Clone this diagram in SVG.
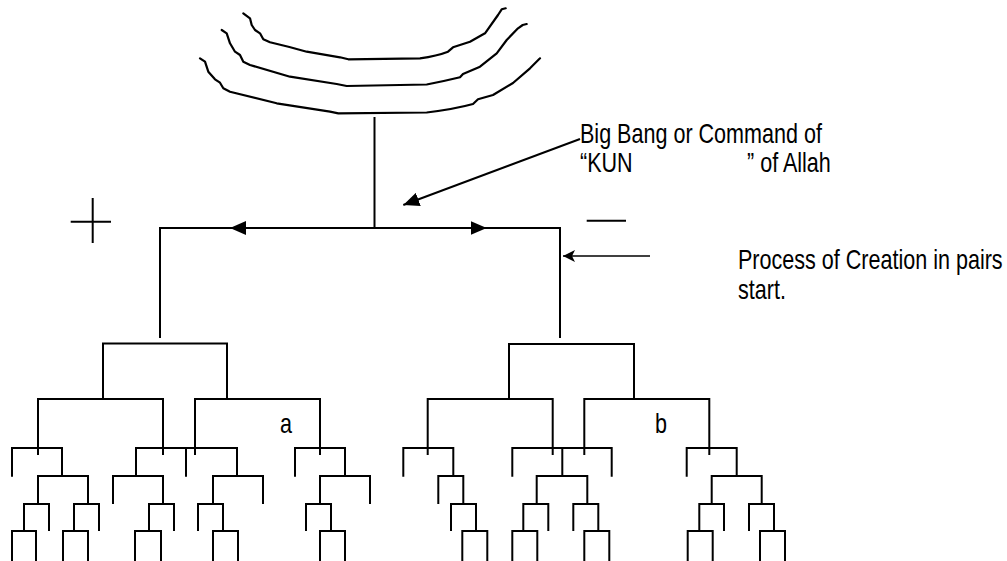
<svg xmlns="http://www.w3.org/2000/svg" width="1007" height="561" viewBox="0 0 1007 561">
<style>
.ln{fill:none;stroke:#000;stroke-width:2;stroke-linecap:butt;stroke-linejoin:miter}
.wv{fill:none;stroke:#000;stroke-width:2.2;stroke-linecap:round;stroke-linejoin:round}
.thin{fill:none;stroke:#000;stroke-width:1.6}
.tx{font-family:"Liberation Sans",Arial,sans-serif;font-size:28px;fill:#000}
</style>
<defs>
<marker id="tri" viewBox="0 0 16 14" refX="16" refY="7" markerWidth="16" markerHeight="14" markerUnits="userSpaceOnUse" orient="auto">
<path d="M0 0 L16 7 L0 14 z" fill="#000"/>
</marker>
<marker id="open" viewBox="0 0 12 12" refX="12" refY="6" markerWidth="12" markerHeight="12" markerUnits="userSpaceOnUse" orient="auto">
<path d="M0 0 L12 6 L0 12 L3 6 z" fill="#000"/>
</marker>
</defs>
<rect width="1007" height="561" fill="#fff"/>
<g id="waves">
<path class="wv" d="M243.3 13.3 L250 18.3 L251.7 25 L255 30 L260 33.3 L263.3 39.3 L270 42.3 Q290 47 306.7 51.7 L340 57.3 L348.3 59.3 L420 58.3 Q437 56 448 51.7 L453 47.3 L470 41.7 L485 33.3 L498 15 L501.7 9.3 L505.7 8.3"/>
<path class="wv" d="M221.7 30 L226.7 33.3 L230 43.3 L235 51.7 L240 55 L243.3 61.7 L250 65 L290 76.7 L336.7 84 L346.7 86 L426.7 84.5 Q445 81 460 77.3 L463 74 L480 66.7 L496.7 53.3 L506.7 40 L518 28.3 L522.7 25 L526.7 24"/>
<path class="wv" d="M200 58.3 L205 61.7 L208.3 71.7 L215 79.3 L220 82.7 L223.3 88.3 L230 91.7 L276.7 103.3 L330 111.7 L338.3 113.3 L426.7 112.5 Q455 109 473 104 L478 99.3 L493 95 L513 83 L530 68.3 L540 58.3"/>
</g>
<g id="signs">
<path class="ln" d="M92.7 198 V243 M70.7 221.7 H111"/>
<path class="ln" d="M586.7 220.7 H626"/>
</g>
<g id="connectors">
<path class="ln" d="M374.5 117 V228"/>
<path class="ln" d="M160 228 H560 M160 227 V338 M560 227 V338"/>
<path class="ln" d="M374.5 228 H230" marker-end="url(#tri)"/>
<path class="ln" d="M374.5 228 H486.7" marker-end="url(#tri)"/>
<path class="ln" d="M580 139 L403.3 205" marker-end="url(#tri)"/>
<path class="thin" d="M650 256 H563" marker-end="url(#open)"/>
</g>
<g id="tree-left">
<path class="ln" d="M103 343.5 H227 M103 342.5 V399 M227 342.5 V399
M38 399 H163 M195 399 H320
M38 398 V455 M163 398 V455 M195 398 V455 M320 398 V455
M12 448 H62 M136 448 H237 M295 448 H345
M12 447 V476.7 M186 447 V476.7 M295 447 V476.7
M62 447 V476 M136 447 V476 M237 447 V476 M345 447 V476
M38 476 H88 M113 476 H163 M213 476 H263 M320 476 H370
M113 475 V504 M263 475 V504 M370 475 V504
M38 475 V504 M88 475 V504 M163 475 V504 M213 475 V504 M320 475 V504
M24 504 H49 M74 504 H99 M149 504 H174 M198 504 H223 M306 504 H331
M49 503 V531 M99 503 V531 M174 503 V531 M198 503 V531 M306 503 V531
M24 503 V531 M74 503 V531 M149 503 V531 M223 503 V531 M331 503 V531
M12 531 H36 M63 531 H88 M135 531 H161 M213 531 H238 M320 531 H345
M12 530 V561 M36 530 V561 M63 530 V561 M88 530 V561 M135 530 V561 M161 530 V561 M213 530 V561 M238 530 V561 M320 530 V561 M345 530 V561"/>
</g>
<g id="tree-right">
<path class="ln" d="M509 344 H634 M509 343 V399 M634 343 V399
M427.7 399 H552.7 M584.3 399 H709.3
M427.7 398 V455 M552.7 398 V455 M584.3 398 V455 M709.3 398 V455
M403.3 448 H453.3 M512.3 448 H611.7 M686.7 448 H736.7
M403.3 447 V476.7 M512.3 447 V476.7 M611.7 447 V476.7 M686.7 447 V476.7
M453.3 447 V476 M562.3 447 V476 M736.7 447 V476
M438.3 476 H463.3 M536.7 476 H587.3 M711.7 476 H761.7
M438.3 475 V504 M463.3 475 V504 M536.7 475 V504 M587.3 475 V504 M711.7 475 V504 M761.7 475 V504
M451 504 H476 M523.3 504 H548.3 M573.3 504 H598.3 M699.3 504 H724 M749 504 H774
M451 503 V531 M548.3 503 V531 M573.3 503 V531 M724 503 V531 M749 503 V531
M476 503 V531 M523.3 503 V531 M598.3 503 V531 M699.3 503 V531 M774 503 V531
M462.3 531 H487.3 M512.3 531 H537.3 M584.3 531 H609.3 M687.7 531 H712.7 M760 531 H785
M462.3 530 V561 M487.3 530 V561 M512.3 530 V561 M537.3 530 V561 M584.3 530 V561 M609.3 530 V561 M687.7 530 V561 M712.7 530 V561 M760 530 V561 M785 530 V561"/>
</g>
<g id="labels">
<text class="tx" transform="translate(580,143) scale(0.77,1)">Big Bang or Command of</text>
<text class="tx" transform="translate(580,172) scale(0.77,1)">“KUN</text>
<text class="tx" transform="translate(747,172) scale(0.77,1)">” of Allah</text>
<text class="tx" transform="translate(738,269) scale(0.77,1)">Process of Creation in pairs</text>
<text class="tx" transform="translate(738,299) scale(0.77,1)">start.</text>
<text class="tx" transform="translate(280,433) scale(0.77,1)">a</text>
<text class="tx" transform="translate(655,433) scale(0.77,1)">b</text>
</g>
</svg>
